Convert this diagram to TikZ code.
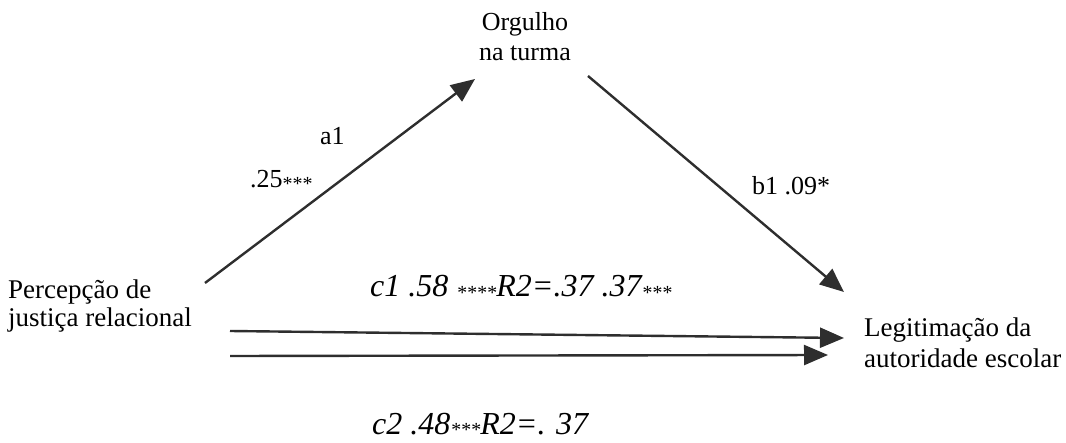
\documentclass[tikz,border=0pt]{standalone}
\usepackage{fontspec}
\setmainfont{Liberation Serif}
\usepackage{tikz}
\usetikzlibrary{arrows.meta}
\newcommand{\sig}[1]{{\fontsize{20}{20}\selectfont\raisebox{-3pt}{#1}}}

\begin{document}
\begin{tikzpicture}[x=1pt,y=1pt,
	      lbl/.style={inner sep=0pt,font=\fontsize{26}{28}\selectfont},
	      coef/.style={inner sep=0pt,anchor=base west,font=\fontsize{32}{32}\selectfont\itshape},
	      arr/.style={draw=black!82,line width=2.4pt,-{Triangle[length=24pt,width=20pt]}}]
			      \useasboundingbox (0,0) rectangle (1066,442);
			      % Variables
			      \node[lbl,align=center,anchor=north,font=\fontsize{26}{30}\selectfont] (OT) at (525,430) {Orgulho\\na turma};
			      \node[lbl,align=left,anchor=north west,font=\fontsize{27}{28}\selectfont] (PJ) at (8,162) {Percepção de\\justiça relacional};
			      \node[lbl,align=left,anchor=north west,font=\fontsize{27}{31}\selectfont] (LA) at (864,124) {Legitimação da\\autoridade escolar};
			      % Coordinates
			      \coordinate (A) at (205,159);
			      \coordinate (B) at (475,363);
			      \coordinate (C) at (588,366);
			      \coordinate (D) at (844,150);
			      \coordinate (E) at (230,111);
			      \coordinate (F) at (844,104);
			      \coordinate (G) at (230,86);
			      \coordinate (H) at (828,87);
			      % Paths
			      \foreach \s/\e in {A/B, C/D, E/F, G/H} {
					      \draw[arr] (\s) -- (\e);
				      }
			      % Coefficients
			      \node[lbl,anchor=base west] (a1) at (320,297) {a1};
			      \node[lbl,anchor=base west] (a1v) at (250,254) {.25\sig{***}};
			      \node[lbl,anchor=base west] (b1) at (752,247) {b1 .09*};
			      \node[coef] (c1) at (370,145) {c1 .58 \sig{****}R2=.37 .37\sig{***}};
			      \node[coef] (c2) at (372,8) {c2 .48\sig{***}R2=. 37};
		      \end{tikzpicture}
\end{document}
